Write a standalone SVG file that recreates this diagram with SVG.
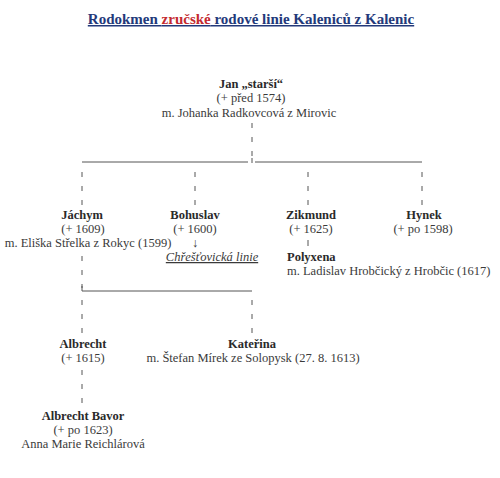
<svg xmlns="http://www.w3.org/2000/svg" width="500" height="478" viewBox="0 0 500 478">
<style>
.t{font-family:"Liberation Serif","Times New Roman",serif;font-size:12.5px;fill:#3a3a3a;text-anchor:middle}
.b{font-weight:bold;fill:#2a2a2a}
.l{text-anchor:start}
.ttl{font-family:"Liberation Serif","Times New Roman",serif;font-size:15px;font-weight:bold;fill:#23397a;text-anchor:middle;text-decoration:underline}
.ln{stroke:#555;stroke-width:1;fill:none}
.d{stroke:#555;stroke-width:1;fill:none;stroke-dasharray:5 9}
</style>
<rect width="500" height="478" fill="#fff"/>
<text class="ttl" x="251" y="24">Rodokmen <tspan fill="#c42a2f">zručské</tspan> rodové linie Kaleniců z Kalenic</text>

<g id="connectors">
<path class="d" d="M252 123V157"/>
<path class="ln" d="M252 158V163M82 162H248M255 162H422"/>
<path class="d" d="M82 172V205M195 172V205M308 172V205M422 172V205"/>
<path class="ln" d="M308 240V246"/>
<path class="d" d="M82 256V288"/>
<path class="ln" d="M82 286V291H252"/>
<path class="d" d="M82 300V334M252 300V334"/>
<path class="d" d="M82 370V404"/>
</g>

<g id="jan">
<text class="t b" x="251" y="88">Jan „starší“</text>
<text class="t" x="251" y="102">(+ před 1574)</text>
<text class="t" x="249" y="117">m. Johanka Radkovcová z Mirovic</text>
</g>
<g id="jachym">
<text class="t b" x="82" y="219">Jáchym</text>
<text class="t" x="83" y="233">(+ 1609)</text>
<text class="t" x="88" y="247">m. Eliška Střelka z Rokyc (1599)</text>
</g>
<g id="bohuslav">
<text class="t b" x="195" y="219">Bohuslav</text>
<text class="t" x="195" y="233">(+ 1600)</text>
<text class="t" x="195" y="247">↓</text>
<text class="t" x="212" y="261" font-style="italic" text-decoration="underline">Chřešťovická linie</text>
</g>
<g id="zikmund">
<text class="t b" x="311" y="219">Zikmund</text>
<text class="t" x="311" y="233">(+ 1625)</text>
</g>
<g id="polyxena">
<text class="t b l" x="287" y="261">Polyxena</text>
<text class="t l" x="287" y="275">m. Ladislav Hrobčický z Hrobčic (1617)</text>
</g>
<g id="hynek">
<text class="t b" x="424" y="219">Hynek</text>
<text class="t" x="423" y="233">(+ po 1598)</text>
</g>
<g id="albrecht">
<text class="t b" x="83" y="348">Albrecht</text>
<text class="t" x="83" y="362">(+ 1615)</text>
</g>
<g id="katerina">
<text class="t b" x="252" y="348">Kateřina</text>
<text class="t" x="253" y="362">m. Štefan Mírek ze Solopysk (27. 8. 1613)</text>
</g>
<g id="albrecht-bavor">
<text class="t b" x="83" y="420">Albrecht Bavor</text>
<text class="t" x="83" y="434">(+ po 1623)</text>
<text class="t" x="83" y="448">Anna Marie Reichlárová</text>
</g>
</svg>
